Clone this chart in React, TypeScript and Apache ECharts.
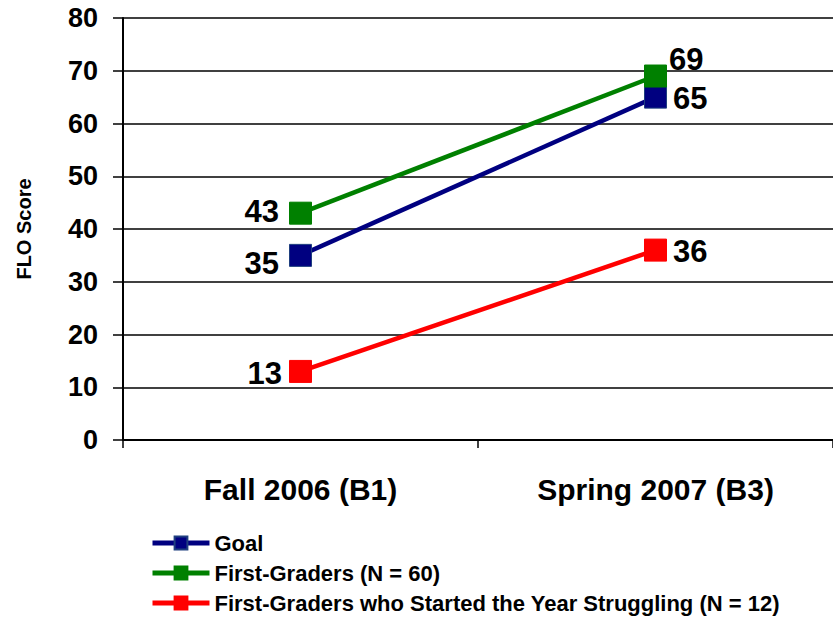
import React, { useEffect, useRef } from "react";
import * as echarts from "echarts";

const categories = ["Fall 2006 (B1)", "Spring 2007 (B3)"];
const goal = [35, 65];
const firstGraders = [43, 69];
const struggling = [13, 36];
const seriesNames = ["Goal", "First-Graders (N = 60)", "First-Graders who Started the Year Struggling (N = 12)"];

const FONT = "Liberation Sans, Arial, sans-serif";

export default function App() {
  const ref = useRef<HTMLDivElement>(null);
  useEffect(() => {
    if (!ref.current) return;
    const chart = echarts.init(ref.current, null, { renderer: "svg" });
    const labelStyle = { show: true, fontFamily: FONT, fontWeight: "bold", fontSize: 31, color: "#000" };
    const mk = (name: string, data: number[], color: string, border: string, labels: any[]) => ({
      name,
      type: "line",
      data: data.map((v, i) => ({ value: v, label: { ...labelStyle, ...labels[i] } })),
      symbol: "rect",
      symbolSize: 22,
      lineStyle: { color, width: 4.5 },
      itemStyle: { color, borderColor: border, borderWidth: 1 },
      z: 3,
    });
    chart.setOption({
      animation: false,
      grid: { left: 123, right: 0, top: 18, bottom: 177, containLabel: false },
      legend: {
        orient: "vertical",
        left: 150,
        top: 532,
        padding: 0,
        itemWidth: 57,
        itemHeight: 16,
        itemGap: 8,
        lineStyle: { width: 5 },
        textStyle: { fontFamily: FONT, fontWeight: "bold", fontSize: 22, color: "#000" },
        data: seriesNames,
      },
      xAxis: {
        type: "category",
        data: categories,
        boundaryGap: true,
        axisLine: { lineStyle: { color: "#000", width: 2 } },
        axisTick: { show: true, length: 8, lineStyle: { color: "#000", width: 1.5 } },
        axisLabel: { fontFamily: FONT, fontWeight: "bold", fontSize: 30, color: "#000", margin: 34 },
      },
      yAxis: {
        type: "value",
        min: 0,
        max: 80,
        interval: 10,
        name: "FLO Score",
        nameLocation: "middle",
        nameGap: 89,
        nameTextStyle: { fontFamily: FONT, fontWeight: "bold", fontSize: 20, color: "#000" },
        axisLine: { show: true, lineStyle: { color: "#000", width: 2 } },
        axisTick: { show: true, length: 10, lineStyle: { color: "#000", width: 1.5 } },
        axisLabel: { fontFamily: FONT, fontWeight: "bold", fontSize: 27, color: "#000", margin: 25 },
        splitLine: { show: true, lineStyle: { color: "#000", width: 1.5 } },
      },
      series: [
        mk(seriesNames[0], goal, "#000080", "#1F3F7F", [
          { position: "left", distance: 10, offset: [0, 8] },
          { position: "right", distance: 6, offset: [0, 1] },
        ]),
        mk(seriesNames[1], firstGraders, "#008000", "#008000", [
          { position: "left", distance: 10, offset: [0, -2] },
          { position: "right", distance: 2, offset: [0, -17] },
        ]),
        mk(seriesNames[2], struggling, "#FF0000", "#FF0000", [
          { position: "left", distance: 7, offset: [0, 2] },
          { position: "right", distance: 6, offset: [0, 1] },
        ]),
      ],
    });
    return () => chart.dispose();
  }, []);
  return <div ref={ref} style={{ position: "absolute", left: 0, top: 0, width: 833, height: 617 }} />;
}
